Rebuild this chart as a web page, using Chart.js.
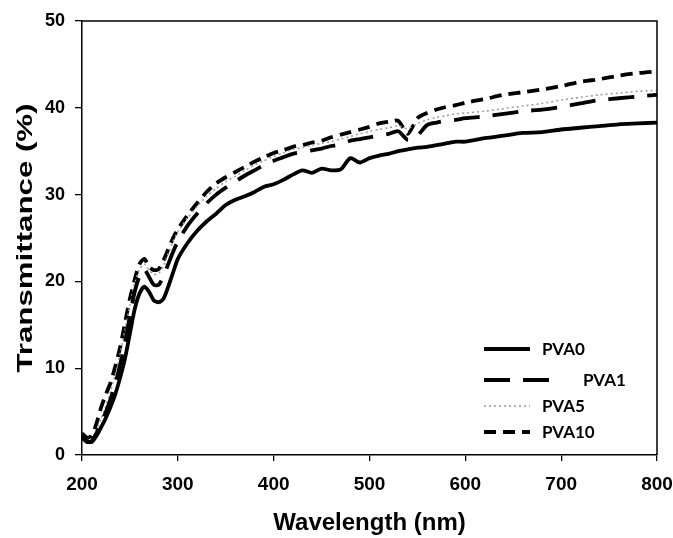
<!DOCTYPE html>
<html>
<head>
<meta charset="utf-8">
<script src="https://cdn.jsdelivr.net/npm/chart.js@4"></script>
<style>
  html, body { margin: 0; padding: 0; background: #fff; }
  #wrap { width: 673px; height: 538px; }
</style>
</head>
<body>
<div id="wrap"><canvas id="main-chart" width="673" height="538"></canvas></div>
<script>
const wavelengths = [200, 205, 210, 215, 220, 225, 230, 235, 240, 245, 250, 255, 260, 265, 270, 275, 280, 285, 290, 295,
  300, 310, 320, 330, 340, 350, 360, 370, 380, 390, 400, 410, 420, 430, 440, 450, 460, 470, 480, 490,
  500, 510, 520, 530, 540, 550, 560, 570, 580, 590, 600, 620, 640, 660, 680, 700, 720, 740, 760, 780, 800];

const pva0 = [2.3, 1.6, 1.5, 2.2, 3.2, 4.3, 5.6, 7.1, 9.0, 11.2, 14.0, 16.8, 18.6, 19.4, 18.8, 17.8, 17.6, 18.0, 19.4, 21.0,
  22.6, 24.4, 25.8, 26.9, 27.8, 28.8, 29.4, 29.8, 30.3, 30.9, 31.2, 31.7, 32.3, 32.8, 32.5, 33.0, 32.8, 32.9, 34.2, 33.7,
  34.2, 34.5, 34.7, 35.0, 35.2, 35.4, 35.5, 35.7, 35.9, 36.1, 36.1, 36.5, 36.8, 37.1, 37.2, 37.5, 37.7, 37.9, 38.1, 38.2, 38.3];

const pva1 = [2.0, 1.5, 1.6, 2.5, 3.7, 5.0, 6.5, 8.3, 10.5, 13.0, 16.0, 18.8, 20.6, 21.4, 20.5, 19.6, 19.6, 20.6, 22.0, 23.4,
  24.6, 26.4, 27.8, 29.0, 30.0, 30.8, 31.5, 32.2, 32.8, 33.4, 33.9, 34.3, 34.7, 34.9, 35.1, 35.3, 35.6, 35.8, 36.2, 36.4,
  36.6, 36.8, 37.0, 37.3, 36.3, 36.8, 38.0, 38.3, 38.5, 38.6, 38.8, 39.0, 39.3, 39.6, 39.8, 40.1, 40.5, 40.9, 41.1, 41.3, 41.5];

const pva5 = [2.3, 1.8, 1.9, 2.9, 4.2, 5.7, 7.4, 9.4, 11.8, 14.5, 17.3, 19.8, 21.4, 22.0, 21.3, 20.8, 20.9, 21.8, 23.2, 24.6,
  25.7, 27.3, 28.6, 29.8, 30.7, 31.5, 32.1, 32.8, 33.4, 33.9, 34.4, 34.8, 35.2, 35.4, 35.7, 35.9, 36.1, 36.4, 36.7, 37.0,
  37.3, 37.5, 37.7, 37.9, 37.6, 38.2, 38.6, 38.9, 39.1, 39.3, 39.4, 39.6, 39.9, 40.2, 40.5, 40.9, 41.2, 41.5, 41.7, 41.9, 42.0];

const pva10 = [2.5, 2.0, 2.2, 3.6, 5.5, 7.0, 8.4, 10.3, 12.5, 15.3, 18.0, 20.2, 22.0, 22.6, 21.7, 21.3, 21.4, 22.4, 23.7, 25.0,
  26.0, 27.6, 29.0, 30.3, 31.3, 32.0, 32.6, 33.2, 33.8, 34.3, 34.8, 35.1, 35.5, 35.7, 36.0, 36.2, 36.6, 36.9, 37.2, 37.5,
  37.8, 38.2, 38.4, 38.5, 37.0, 38.8, 39.4, 39.8, 40.1, 40.3, 40.6, 41.0, 41.5, 41.8, 42.1, 42.5, 43.0, 43.3, 43.7, 44.0, 44.2];

const seriesNames = ['PVA0', 'PVA1', 'PVA5', 'PVA10'];

const toPoints = vals => vals.map((v, i) => ({ x: wavelengths[i], y: v }));

const styles = [
  { color: '#000', width: 3.8, dash: [] },
  { color: '#000', width: 3.8, dash: [26, 13] },
  { color: '#9a9a9a', width: 1.5, dash: [2, 3] },
  { color: '#000', width: 3.8, dash: [12, 7] },
];

const datasets = [pva0, pva1, pva5, pva10].map((vals, i) => ({
  label: seriesNames[i],
  data: toPoints(vals),
  borderColor: styles[i].color,
  borderWidth: styles[i].width,
  borderDash: styles[i].dash,
  pointRadius: 0,
  fill: false,
  tension: 0.25,
}));

// top + right frame lines
const frame = {
  id: 'frame',
  afterDraw(chart) {
    const { ctx, chartArea: a } = chart;
    ctx.save();
    ctx.strokeStyle = '#000';
    ctx.lineWidth = 1.5;
    ctx.beginPath();
    ctx.moveTo(a.left, a.top);
    ctx.lineTo(a.right, a.top);
    ctx.lineTo(a.right, a.bottom);
    ctx.stroke();
    ctx.restore();
  }
};

// y title is tall and narrow in the source, so stretch it along its length
const yTitle = {
  id: 'yTitle',
  afterDraw(chart) {
    const { ctx, chartArea: a } = chart;
    ctx.save();
    ctx.translate(26, (a.top + a.bottom) / 2);
    ctx.rotate(-Math.PI / 2);
    ctx.scale(1.42, 1);
    ctx.fillStyle = '#000';
    ctx.font = 'bold 22px "Liberation Sans"';
    ctx.textAlign = 'center';
    ctx.textBaseline = 'middle';
    ctx.fillText('Transmittance (%)', 0, 0);
    ctx.restore();
  }
};

// legend drawn inside the plot, bottom right
const lineLegend = {
  id: 'lineLegend',
  afterDraw(chart) {
    const { ctx } = chart;
    const rows = [
      { y: 349, x0: 484, x1: 530, tx: 542 },
      { y: 380, x0: 484, x1: 550, tx: 583 },
      { y: 406, x0: 484, x1: 530, tx: 542 },
      { y: 432, x0: 484, x1: 530, tx: 542 },
    ];
    ctx.save();
    chart.data.datasets.forEach((ds, i) => {
      const r = rows[i];
      ctx.strokeStyle = ds.borderColor;
      ctx.lineWidth = ds.borderWidth;
      ctx.setLineDash(ds.borderDash);
      ctx.beginPath();
      ctx.moveTo(r.x0, r.y);
      ctx.lineTo(r.x1, r.y);
      ctx.stroke();
      ctx.setLineDash([]);
      ctx.fillStyle = '#000';
      ctx.font = 'bold 17px Lato';
      ctx.textBaseline = 'middle';
      ctx.fillText(ds.label, r.tx, r.y + 1);
    });
    ctx.restore();
  }
};

const titleFont = { family: 'Liberation Sans', size: 24, weight: 'bold' };

new Chart(document.getElementById('main-chart').getContext('2d'), {
  type: 'line',
  data: { datasets },
  options: {
    responsive: false,
    animation: false,
    layout: { padding: { top: 21, right: 16, left: 0, bottom: 0 } },
    plugins: { legend: { display: false }, tooltip: { enabled: false } },
    scales: {
      x: {
        type: 'linear',
        min: 200,
        max: 800,
        ticks: { stepSize: 100, color: '#000', font: { family: 'Liberation Sans', size: 19, weight: 'bold' }, padding: 12, maxRotation: 0 },
        grid: { drawOnChartArea: false, drawTicks: true, tickLength: 6, color: '#000', lineWidth: 1.3 },
        border: { display: true, color: '#000', width: 1.5 },
        title: { display: true, text: 'Wavelength (nm)', color: '#000', font: titleFont, padding: { top: 0, bottom: 0 } },
        afterFit: s => { s.height = 83; s.paddingLeft = 0; s.paddingRight = 0; },
      },
      y: {
        min: 0,
        max: 50,
        ticks: { stepSize: 10, color: '#000', font: { family: 'Liberation Sans', size: 18, weight: 'bold' }, padding: 10 },
        grid: { drawOnChartArea: false, drawTicks: true, tickLength: 7, color: '#000', lineWidth: 1.3 },
        border: { display: true, color: '#000', width: 1.5 },
        afterFit: s => { s.width = 82; s.paddingTop = 0; s.paddingBottom = 0; },
      },
    },
  },
  plugins: [frame, yTitle, lineLegend],
});
</script>
</body>
</html>
